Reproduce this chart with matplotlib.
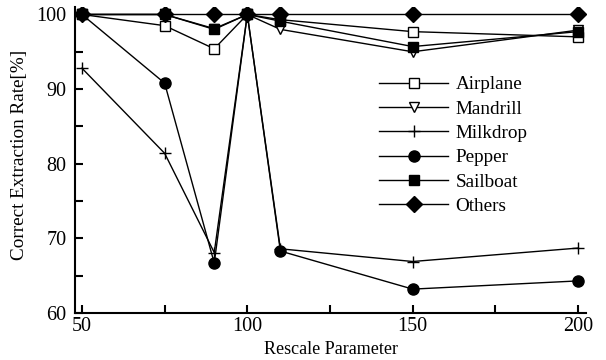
import matplotlib
matplotlib.use("Agg")
import matplotlib.pyplot as plt
from matplotlib.ticker import MultipleLocator

# Data
rescale = [50, 75, 90, 100, 110, 150, 200]
airplane = [100, 98.5, 95.4, 100, 99.3, 97.7, 97.0]
mandrill = [100, 100, 98.0, 100, 98.0, 95.0, 97.9]
milkdrop = [92.8, 81.4, 68.1, 100, 68.6, 66.9, 68.7]
pepper = [100, 90.8, 66.7, 100, 68.3, 63.2, 64.3]
sailboat = [100, 100, 98.1, 100, 99.1, 95.7, 97.7]
others = [100, 100, 100, 100, 100, 100, 100]

plt.rcParams['font.family'] = ['Liberation Serif', 'DejaVu Serif']
plt.rcParams['font.size'] = 13

fig = plt.figure(figsize=(6.06, 3.6), dpi=100)
ax = fig.add_axes([75 / 606, 47 / 360, (586 - 75) / 606, (313 - 7) / 360])

# Draw series
ax.plot(rescale, airplane, color='black', lw=1, marker='s', ms=7,
        mfc='white', mec='black', label='Airplane', zorder=3)
ax.plot(rescale, mandrill, color='black', lw=1, marker='v', ms=7,
        mfc='white', mec='black', label='Mandrill', zorder=3)
ax.plot(rescale, milkdrop, color='black', lw=1, marker='+', ms=9,
        mew=1, label='Milkdrop', zorder=3)
ax.plot(rescale, pepper, color='black', lw=1, marker='o', ms=8,
        label='Pepper', zorder=3)
ax.plot(rescale, sailboat, color='black', lw=1, marker='s', ms=7,
        label='Sailboat', zorder=3)
ax.plot(rescale, others, color='black', lw=1, marker='D', ms=8,
        label='Others', zorder=3)

ax.set_xlim(47.9, 202.4)
ax.set_ylim(60, 101)
ax.xaxis.set_major_locator(MultipleLocator(50))
ax.xaxis.set_minor_locator(MultipleLocator(25))
ax.yaxis.set_major_locator(MultipleLocator(10))
ax.yaxis.set_minor_locator(MultipleLocator(5))
ax.tick_params(which='both', direction='in', length=6, width=1.5,
               top=False, right=False, labelsize=14.5)
ax.tick_params(axis='x', pad=3)
ax.tick_params(axis='y', pad=6)

for side in ['top', 'right']:
    ax.spines[side].set_visible(False)
for side in ['left', 'bottom']:
    ax.spines[side].set_linewidth(1.5)

ax.set_xlabel('Rescale Parameter', fontsize=13)
ax.xaxis.set_label_coords(0.5, -28 / 306, transform=ax.transAxes)
ax.set_ylabel('Correct Extraction Rate[%]', fontsize=13.8)
ax.yaxis.set_label_coords(-47 / 511, 0.5 + 5 / 306, transform=ax.transAxes)

ax.legend(loc='upper left', bbox_to_anchor=(379 / 606, 1 - 76 / 360),
          bbox_transform=fig.transFigure, frameon=False, borderpad=0,
          borderaxespad=0, handlelength=3.6, handletextpad=0.4,
          labelspacing=0.36, fontsize=13.8)

fig.savefig('out.png', dpi=100)
